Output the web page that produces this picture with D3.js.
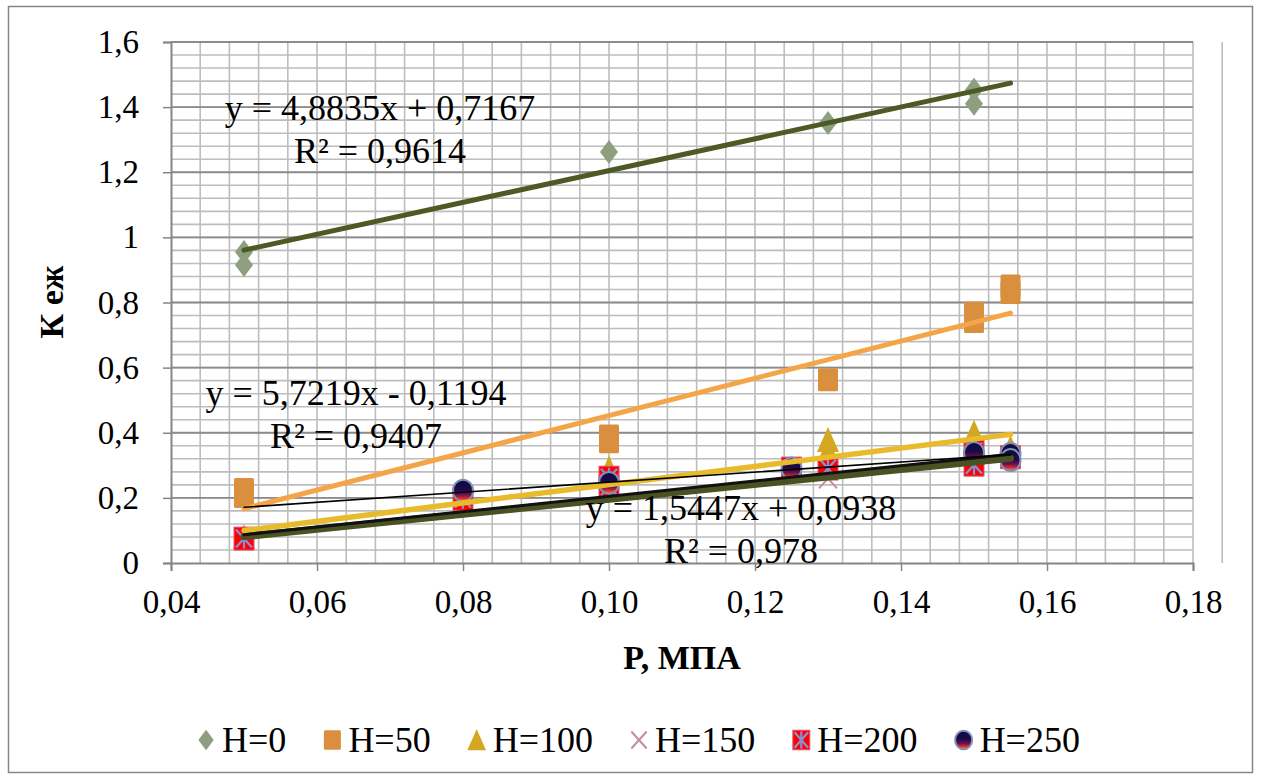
<!DOCTYPE html>
<html>
<head>
<meta charset="utf-8">
<script src="https://cdn.jsdelivr.net/npm/d3@7"></script>
<style>
  body { margin: 0; background: #fff; }
  svg text { font-family: "Liberation Serif", "Times New Roman", "DejaVu Serif", serif !important; }
</style>
</head>
<body>
<div id="chart"></div>
<script>
// data
const seriesNames = ["H=0", "H=50", "H=100", "H=150", "H=200", "H=250"];
const p0 = [0.05, 0.05, 0.10, 0.13, 0.15, 0.15];
const k0 = [0.955, 0.915, 1.262, 1.351, 1.453, 1.41];
const p50 = [0.05, 0.05, 0.10, 0.10, 0.13, 0.15, 0.15, 0.155, 0.155];
const k50 = [0.226, 0.204, 0.39, 0.372, 0.563, 0.767, 0.742, 0.851, 0.831];
const p100 = [0.05, 0.10, 0.13, 0.13, 0.15, 0.155];
const k100 = [0.08, 0.29, 0.378, 0.344, 0.40, 0.353];
const p150 = [0.05, 0.08, 0.10, 0.125, 0.13, 0.15, 0.155];
const k150 = [0.07, 0.18, 0.24, 0.285, 0.26, 0.31, 0.33];
const p200 = [0.05, 0.08, 0.10, 0.10, 0.125, 0.13, 0.15, 0.15, 0.155];
const k200 = [0.075, 0.197, 0.262, 0.235, 0.29, 0.29, 0.342, 0.302, 0.325];
const p250 = [0.08, 0.10, 0.125, 0.15, 0.155, 0.155];
const k250 = [0.222, 0.246, 0.29, 0.338, 0.335, 0.316];

// linear trendlines (slope, intercept) per series
const trendSlope = [4.8835, 5.7219, 2.81, 2.295, 2.352, 1.5447];
const trendIntercept = [0.7167, -0.1194, -0.0405, -0.0338, -0.0306, 0.0938];
const trendRange = [0.05, 0.155];

const eqLines = [
  ["y = 4,8835x + 0,7167", "R² = 0,9614"],
  ["y = 5,7219x - 0,1194", "R² = 0,9407"],
  ["y = 1,5447x + 0,0938", "R² = 0,978"]
];
const xTicks = [0.04, 0.06, 0.08, 0.10, 0.12, 0.14, 0.16, 0.18];
const yTicks = [0, 0.2, 0.4, 0.6, 0.8, 1, 1.2, 1.4, 1.6];

const FONT = "Liberation Serif, Times New Roman, DejaVu Serif, serif";
const W = 1261, H = 778;
const svg = d3.select("#chart").append("svg")
  .attr("width", W).attr("height", H)
  .attr("font-family", FONT);

const defs = svg.append("defs");
const grad = defs.append("linearGradient").attr("id", "ballGrad")
  .attr("x1", 0).attr("y1", 0).attr("x2", 0).attr("y2", 1);
[[0, "#0b0b3e"], [0.45, "#1c0a48"], [0.68, "#6a1050"], [0.86, "#e0302e"], [1, "#f7a032"]]
  .forEach(s => grad.append("stop").attr("offset", s[0]).attr("stop-color", s[1]));

// outer frame
svg.append("rect")
  .attr("x", 8.5).attr("y", 6.5).attr("width", 1244).attr("height", 766)
  .attr("fill", "#fff").attr("stroke", "#868686").attr("stroke-width", 1.5);

const x = d3.scaleLinear().domain([0.04, 0.18]).range([171, 1193]);
const y = d3.scaleLinear().domain([0, 1.6]).range([563, 42]);

// gridlines: minor then major
const grid = svg.append("g");
grid.selectAll("line.vx")
  .data(d3.range(0, 36).map(i => 0.044 + i * 0.004))
  .join("line")
  .attr("x1", d => x(d)).attr("x2", d => x(d))
  .attr("y1", y(0)).attr("y2", y(1.6))
  .attr("stroke", "#bdbdbd").attr("stroke-width", 1.6);
grid.selectAll("line.hy")
  .data(d3.range(1, 41).map(i => i * 0.04))
  .join("line")
  .attr("x1", x(0.04)).attr("x2", x(0.18))
  .attr("y1", d => y(d)).attr("y2", d => y(d))
  .attr("stroke", "#bdbdbd").attr("stroke-width", 1.6);
grid.selectAll("line.hmaj")
  .data(yTicks.slice(1))
  .join("line")
  .attr("x1", x(0.04)).attr("x2", x(0.18))
  .attr("y1", d => y(d)).attr("y2", d => y(d))
  .attr("stroke", "#8c8c8c").attr("stroke-width", 1.8);

const comma = s => s.replace(".", ",");

const xAxis = svg.append("g")
  .attr("transform", `translate(0,${y(0)})`)
  .call(d3.axisBottom(x).tickValues(xTicks).tickSize(8).tickPadding(24)
    .tickFormat(d => comma(d3.format(".2f")(d))));
const yAxis = svg.append("g")
  .attr("transform", `translate(${x(0.04)},0)`)
  .call(d3.axisLeft(y).tickValues(yTicks).tickSize(8).tickPadding(24)
    .tickFormat(d => comma(String(+d.toFixed(1)))));
[xAxis, yAxis].forEach(a => {
  a.attr("font-family", FONT);
  a.select(".domain").attr("stroke", "#868686").attr("stroke-width", 2);
  a.selectAll(".tick line").attr("stroke", "#868686").attr("stroke-width", 1.5);
  a.selectAll(".tick text").attr("font-size", 33)
    .attr("font-family", FONT).attr("fill", "#000");
});
xAxis.selectAll(".tick text").attr("dy", "0.55em");

// axis titles
svg.append("text")
  .attr("x", 682).attr("y", 669)
  .attr("text-anchor", "middle").attr("font-family", FONT)
  .attr("font-size", 34).attr("font-weight", "bold")
  .text("P, МПА");
svg.append("text")
  .attr("transform", `translate(63,302) rotate(-90)`)
  .attr("text-anchor", "middle").attr("font-family", FONT)
  .attr("font-size", 34).attr("font-weight", "bold")
  .text("К еж");

// marker drawing
function marker(g, kind, s) {
  if (kind === 0) {
    g.append("path").attr("d", `M0,${-12 * s}L${9 * s},0L0,${12 * s}L${-9 * s},0Z`)
      .attr("fill", "#8e9f7f");
  } else if (kind === 1) {
    g.append("rect").attr("x", -10 * s).attr("y", -11.5 * s)
      .attr("width", 20 * s).attr("height", 23 * s).attr("rx", 1.5)
      .attr("fill", "#d98f3d");
  } else if (kind === 2) {
    g.append("path").attr("d", `M0,${-13 * s}L${11 * s},${12 * s}L${-11 * s},${12 * s}Z`)
      .attr("fill", "#d4a722");
  } else if (kind === 3) {
    g.append("path")
      .attr("d", `M${-9 * s},${-10 * s}L${9 * s},${10 * s}M${9 * s},${-10 * s}L${-9 * s},${10 * s}`)
      .attr("stroke", "#c0909c").attr("stroke-width", 2).attr("fill", "none");
  } else if (kind === 4) {
    g.append("rect").attr("x", -10 * s).attr("y", -11.5 * s)
      .attr("width", 20 * s).attr("height", 23 * s)
      .attr("fill", "#ff0000").attr("stroke", "#e35a7a").attr("stroke-width", 1);
    g.append("path")
      .attr("d", `M${-8 * s},${-9 * s}L${8 * s},${9 * s}M${8 * s},${-9 * s}L${-8 * s},${9 * s}M0,${-10 * s}L0,${10 * s}`)
      .attr("stroke", "#8b8fd2").attr("stroke-width", 2.2).attr("fill", "none");
  } else {
    g.append("ellipse").attr("rx", 10 * s).attr("ry", 11 * s)
      .attr("fill", "url(#ballGrad)").attr("stroke", "#7f90b8").attr("stroke-width", 2);
  }
}

const seriesP = [p0, p50, p100, p150, p200, p250];
const seriesK = [k0, k50, k100, k150, k200, k250];

const marks = svg.append("g");
seriesP.forEach((ps, si) => {
  marks.append("g").selectAll("g")
    .data(ps.map((p, i) => ({ p: p, k: seriesK[si][i] })))
    .join("g")
    .attr("transform", d => `translate(${x(d.p)},${y(d.k)})`)
    .each(function () { marker(d3.select(this), si, 1); });
});

// trendlines over the markers
const trendColor = ["#4d5a25", "#f4a548", "#e8bb2c", "#4a5122", "#111111", "#000000"];
const trendWidth = [5, 5, 5.5, 7, 3, 1.6];
const trends = svg.append("g");
trendSlope.forEach((m, i) => {
  trends.append("line")
    .attr("x1", x(trendRange[0])).attr("y1", y(m * trendRange[0] + trendIntercept[i]))
    .attr("x2", x(trendRange[1])).attr("y2", y(m * trendRange[1] + trendIntercept[i]))
    .attr("stroke", trendColor[i]).attr("stroke-width", trendWidth[i])
    .attr("stroke-linecap", "round");
});

// equation labels
const eqPos = [[380, 120], [356, 405], [741, 520]];
eqLines.forEach((lines, i) => {
  lines.forEach((t, j) => {
    svg.append("text")
      .attr("x", eqPos[i][0]).attr("y", eqPos[i][1] + j * 43)
      .attr("text-anchor", "middle").attr("font-family", FONT)
      .attr("font-size", 36).attr("fill", "#000")
      .text(t);
  });
});

// legend
const legend = svg.append("g");
let lx = 0;
seriesNames.forEach((name, i) => {
  const item = legend.append("g").attr("transform", `translate(${lx},0)`);
  const m = item.append("g").attr("transform", "translate(10,0)");
  marker(m, i, 0.85);
  const t = item.append("text").attr("x", 26).attr("y", 12)
    .attr("font-family", FONT).attr("font-size", 36).text(name);
  lx += 26 + t.node().getComputedTextLength() + 36;
});
const legendW = lx - 36;
legend.attr("transform", `translate(${638 - legendW / 2},740)`);
</script>
</body>
</html>
